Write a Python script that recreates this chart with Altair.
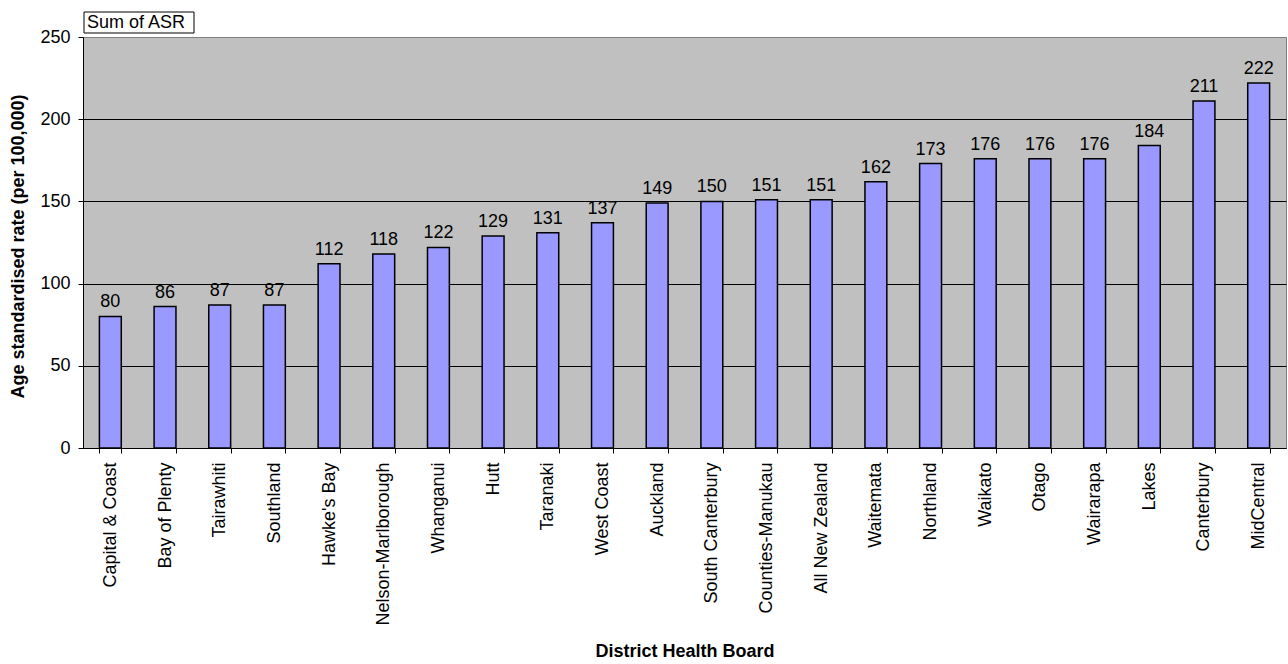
import altair as alt
import pandas as pd

# District Health Boards, ordered by age standardised rate
boards = [
    "Capital & Coast", "Bay of Plenty", "Tairawhiti", "Southland", "Hawke's Bay",
    "Nelson-Marlborough", "Whanganui", "Hutt", "Taranaki", "West Coast",
    "Auckland", "South Canterbury", "Counties-Manukau", "All New Zealand",
    "Waitemata", "Northland", "Waikato", "Otago", "Wairarapa", "Lakes",
    "Canterbury", "MidCentral",
]
asr = [80, 86, 87, 87, 112, 118, 122, 129, 131, 137, 149, 150, 151, 151,
       162, 173, 176, 176, 176, 184, 211, 222]
y_ticks = [0, 50, 100, 150, 200, 250]

df = pd.DataFrame({"board": boards, "asr": asr})

FONT = "Liberation Sans"
FS = 18

x_enc = alt.X(
    "board:N",
    sort=boards,
    scale=alt.Scale(paddingInner=0.6, paddingOuter=0.3),
    axis=alt.Axis(
        title="District Health Board",
        titleFont=FONT, titleFontSize=FS, titleFontWeight="bold", titleColor="black",
        titleY=203, titleBaseline="middle",
        labelAngle=-90, labelFont=FONT, labelFontSize=FS, labelColor="black",
        labelPadding=9, labelLimit=300,
        tickBand="extent", tickSize=5, tickColor="black",
        domainColor="black", grid=False,
    ),
)

y_enc = alt.Y(
    "asr:Q",
    scale=alt.Scale(domain=[0, 250], nice=False),
    axis=alt.Axis(
        title="Age standardised rate (per 100,000)",
        titleFont=FONT, titleFontSize=FS, titleFontWeight="bold", titleColor="black",
        titleX=-65, titleY=209, titleAngle=-90, titleAlign="center",
        titleBaseline="middle",
        values=y_ticks, labelFont=FONT, labelFontSize=FS, labelColor="black",
        labelPadding=8, tickSize=5, tickColor="black", domainColor="black",
        grid=True,
        gridColor={"condition": {"test": "datum.value == 250", "value": "#808080"},
                   "value": "black"},
        gridWidth=1,
    ),
)

bars = alt.Chart(df).mark_bar(
    color="#9999FF", stroke="black", strokeWidth=1.5
).encode(x=x_enc, y=y_enc)

labels = alt.Chart(df).mark_text(
    font=FONT, fontSize=FS, color="black", baseline="alphabetic", dy=-9
).encode(x=alt.X("board:N", sort=boards), y="asr:Q", text="asr:Q")

# Legend-style caption box above the plot area
caption = alt.Data(values=[{"label": "Sum of ASR"}])
cap_box = alt.Chart(caption).mark_rect(fill="white", stroke="black", strokeWidth=1).encode(
    x=alt.value(1), x2=alt.value(111), y=alt.value(-25), y2=alt.value(-4)
)
cap_text = alt.Chart(caption).mark_text(
    font=FONT, fontSize=FS, color="black", align="left", baseline="middle"
).encode(x=alt.value(4), y=alt.value(-14), text="label:N")

chart = alt.layer(bars, labels, cap_box, cap_text).properties(
    width=1203,
    height=411,
    autosize=alt.AutoSizeParams(type="none"),
    padding={"left": 83, "top": 37, "right": 2, "bottom": 216},
    background="white",
).configure_view(
    fill="#C0C0C0", stroke="#808080", strokeWidth=1
)

chart.save("out.html", embed_options={"renderer": "svg", "actions": False})
